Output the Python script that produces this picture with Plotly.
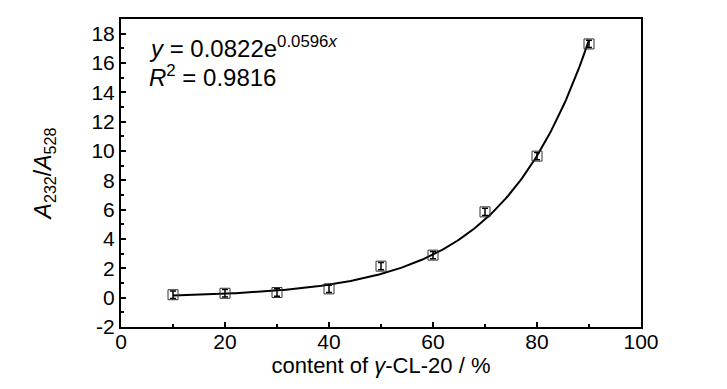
import numpy as np
import plotly.graph_objects as go

content = [10, 20, 30, 40, 50, 60, 70, 80, 90]
ratio = [0.2, 0.3, 0.35, 0.6, 2.15, 2.9, 5.85, 9.65, 17.3]
ratio_err = [0.25, 0.25, 0.25, 0.25, 0.25, 0.25, 0.25, 0.25, 0.25]
fit_a = 0.0822
fit_b = 0.0596
x_ticks = [0, 20, 40, 60, 80, 100]
y_ticks = [-2, 0, 2, 4, 6, 8, 10, 12, 14, 16, 18]
y_ticktext = ["-2", "0", "2", "4", "6", "8", "10", "12", "14", "16", "18"]

FONT = "Liberation Sans, Arial, sans-serif"

xf = np.linspace(min(content), max(content), 200)
yf = fit_a * np.exp(fit_b * xf)

fig = go.Figure()
fig.add_trace(go.Scatter(x=xf, y=yf, mode="lines",
                         line=dict(color="black", width=2), showlegend=False))
fig.add_trace(go.Scatter(
    x=content, y=ratio, mode="markers",
    marker=dict(symbol="square-open", size=10, color="#333333", line=dict(width=1)),
    error_y=dict(type="data", array=ratio_err, color="black", thickness=1.5, width=3),
    showlegend=False))

axis_common = dict(
    showline=True, linecolor="black", linewidth=2, mirror=True,
    ticks="inside", ticklen=5, tickwidth=1.5, tickcolor="black",
    showgrid=False, zeroline=False,
    tickfont=dict(family=FONT, size=21, color="black"),
)
fig.update_xaxes(range=[0, 100], tickvals=x_ticks, ticklabelstandoff=-5,
                 minor=dict(ticks="inside", ticklen=3, tickwidth=1.5, dtick=10, tick0=0, tickcolor="black"),
                 title=dict(text="content of <i>γ</i>-CL-20 / %", font=dict(family=FONT, size=22, color="black"), standoff=2),
                 **axis_common)
fig.update_yaxes(range=[-2, 19], tickvals=y_ticks, ticktext=y_ticktext,
                 minor=dict(ticks="inside", ticklen=3, tickwidth=1.5, dtick=1, tick0=0, tickcolor="black"),
                 title=dict(text="<i>A</i><sub>232</sub>/<i>A</i><sub>528</sub>", font=dict(family=FONT, size=23, color="black"), standoff=33),
                 **axis_common)

fig.add_annotation(xref="paper", yref="paper", x=0.05, y=0.91, xanchor="left", yanchor="middle",
                   text="<i>y</i> = 0.0822e<sup>0.0596<i>x</i></sup>", showarrow=False,
                   font=dict(family=FONT, size=24, color="black"))
fig.add_annotation(xref="paper", yref="paper", x=0.05, y=0.815, xanchor="left", yanchor="middle",
                   text="<i>R</i><sup>2</sup> = 0.9816", showarrow=False,
                   font=dict(family=FONT, size=24, color="black"))

# page body adds an 8px margin; compensate so the plot box sits where the reference has it
fig.update_layout(width=719, height=381, margin=dict(l=113, r=86, t=9, b=62),
                  plot_bgcolor="white", paper_bgcolor="white")
fig.write_html("out.html")
